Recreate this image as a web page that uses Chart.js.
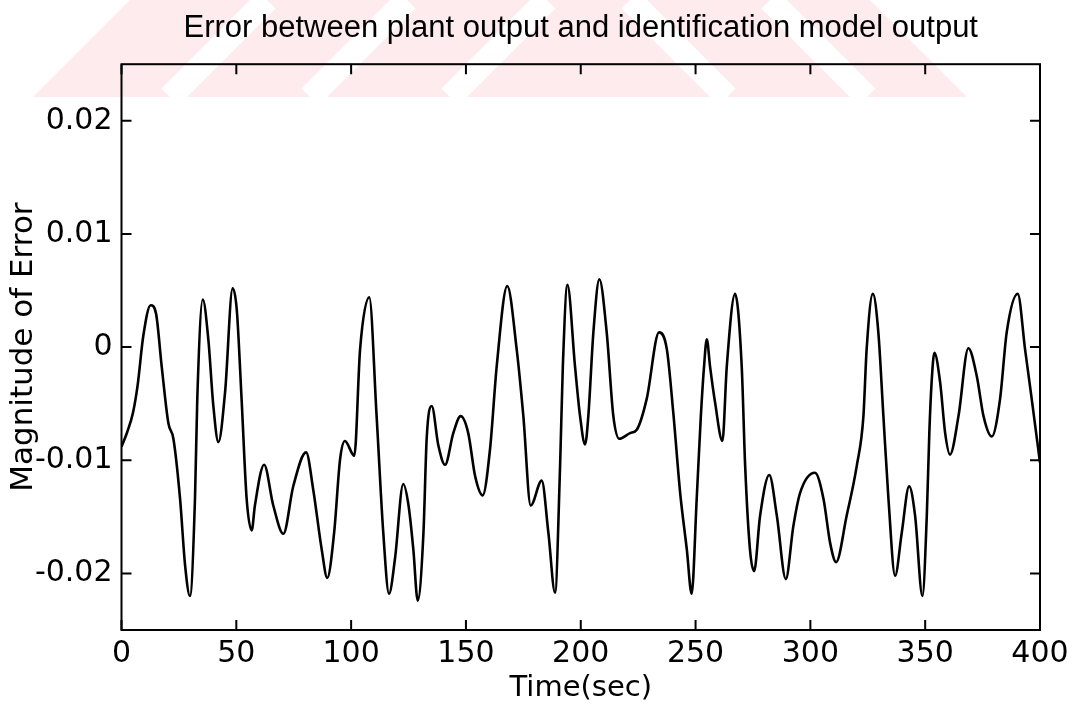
<!DOCTYPE html>
<html>
<head>
<meta charset="utf-8">
<title>Error between plant output and identification model output</title>
<script src="https://cdn.jsdelivr.net/npm/chart.js@4.4.1/dist/chart.umd.min.js"></script>
<style>
  html, body { margin: 0; padding: 0; background: #fff; }
  #wrap { width: 1077px; height: 708px; }
</style>
</head>
<body>
<div id="wrap"><canvas id="errChart" width="1077" height="708"></canvas></div>
<script>
// values
const timeSec = [
  0, 2.5, 5, 7, 9.5, 12.7, 15, 17.5, 20.4, 22.6, 25.5, 27.7, 29.8, 32, 33, 35.4, 37.8, 40, 42.2, 45.1,
  48.4, 50.2, 52.3, 54.5, 56.7, 58.1, 62.1, 66.1, 70.5, 74.8, 80.4, 83.5, 87.2, 89.6, 92.6, 95.2, 97.3,
  101.4, 103.9, 107.9, 111.1, 114, 116.5, 119.1, 122.7, 125, 127.1, 129, 131.5, 132.9, 135.1, 138,
  140.9, 144.5, 147.7, 151, 154, 157.3, 160.5, 163.4, 168, 172.1, 175, 178.2, 183, 185.9, 188.8, 191,
  192.2, 194.2, 197.5, 199.7, 201.9, 203.3, 205.5, 208.1, 211.3, 214.2, 216.8, 221.5, 224.4, 228.7,
  234.1, 237.5, 240.3, 243.3, 246.2, 248.3, 250.5, 252.3, 253.7, 254.9, 256.3, 258.5, 261.7, 263.6,
  267.2, 270.1, 271.6, 273.7, 275.5, 278.1, 282.1, 285.4, 289.3, 292.6, 295.5, 302, 305.7, 308.6,
  311.2, 315.8, 320.2, 323.1, 324.5, 327.2, 329.6, 331.8, 334, 336.9, 339.8, 343, 345.6, 348.8, 350.7,
  351.8, 352.8, 354, 356.5, 358.7, 360.8, 364.5, 368.8, 372.5, 375.4, 379, 382.6, 385.5, 390.3, 393.5,
  396.4, 400
];
const errorVal = [
  -0.0088, -0.0075, -0.0058, -0.0034, 0.0010, 0.0037, 0.0030, -0.0017, -0.0067, -0.0081, -0.0134, -0.0193, -0.0220, -0.0134, -0.0046, 0.0042, 0.0007, -0.0052, -0.0084, -0.0040,
  0.0052, 0.0033, -0.0046, -0.0134, -0.0162, -0.0140, -0.0104, -0.0140, -0.0165, -0.0123, -0.0093, -0.0126, -0.0179, -0.0204, -0.0164, -0.0099, -0.0083,
  -0.0096, -0.0002, 0.0044, -0.0061, -0.0164, -0.0218, -0.0187, -0.0121, -0.0140, -0.0179, -0.0224, -0.0164, -0.0081, -0.0052, -0.0087,
  -0.0104, -0.0076, -0.0061, -0.0076, -0.0114, -0.0131, -0.0090, -0.0017, 0.0054, -0.0002, -0.0061, -0.0140, -0.0118, -0.0164, -0.0217, -0.0105,
  -0.0017, 0.0055, -0.0017, -0.0061, -0.0086, -0.0061, 0.0013, 0.0060, 0.0013, -0.0061, -0.0081, -0.0076, -0.0073, -0.0046,
  0.0013, -0.0002, -0.0058, -0.0129, -0.0179, -0.0218, -0.0134, -0.0061, -0.0017, 0.0007, -0.0017, -0.0049, -0.0083, -0.0017,
  0.0047, -0.0017, -0.0105, -0.0179, -0.0198, -0.0149, -0.0113, -0.0149, -0.0205, -0.0158, -0.0129, -0.0111, -0.0134, -0.0173,
  -0.0190, -0.0149, -0.0105, -0.0061, -0.0002, 0.0047, 0.0013, -0.0061, -0.0134, -0.0202, -0.0164, -0.0123, -0.0149, -0.0220, -0.0149,
  -0.0076, -0.0031, -0.0005, -0.0031, -0.0076, -0.0095, -0.0061, -0.0001, -0.0026, -0.0061, -0.0079, -0.0046, 0.0013, 0.0047, -0.0002,
  -0.0046, -0.0102
];
const xTicks = [0, 50, 100, 150, 200, 250, 300, 350, 400];
const yTicks = [-0.02, -0.01, 0, 0.01, 0.02];

const SANS = "'Liberation Sans', Arial, Helvetica, sans-serif";
const WIDE = "'DejaVu Sans', Verdana, sans-serif";

const points = timeSec.map((t, i) => ({ x: t, y: errorVal[i] }));

// white page + the faint pink watermark band at the top
const backdrop = {
  id: 'backdrop',
  beforeDraw(chart) {
    const ctx = chart.ctx;
    ctx.save();
    ctx.fillStyle = '#fff';
    ctx.fillRect(0, 0, chart.width, chart.height);

    ctx.beginPath();
    ctx.moveTo(33, 97);
    ctx.lineTo(130, 0);
    ctx.lineTo(870, 0);
    ctx.lineTo(967, 97);
    ctx.closePath();
    ctx.clip();
    ctx.fillStyle = '#fdebee';
    ctx.fillRect(0, 0, chart.width, 97);

    ctx.strokeStyle = '#fff';
    ctx.lineWidth = 24;
    // left half: "/" gaps
    ctx.save();
    ctx.beginPath();
    ctx.rect(0, 0, 560, 97);
    ctx.clip();
    for (let x0 = 170; x0 < 560; x0 += 140) {
      ctx.beginPath();
      ctx.moveTo(x0, 97);
      ctx.lineTo(x0 + 97, 0);
      ctx.stroke();
    }
    ctx.restore();
    // right half: "\" gaps
    ctx.save();
    ctx.beginPath();
    ctx.rect(560, 0, 520, 97);
    ctx.clip();
    for (let x0 = 630; x0 < 1100; x0 += 140) {
      ctx.beginPath();
      ctx.moveTo(x0, 0);
      ctx.lineTo(x0 + 97, 97);
      ctx.stroke();
    }
    ctx.restore();
    ctx.restore();
  }
};

// matlab style box with the tick marks pointing inwards
const frameTicks = {
  id: 'frameTicks',
  afterDatasetsDraw(chart) {
    const { ctx, chartArea: a, scales } = chart;
    const len = 10;
    ctx.save();
    ctx.strokeStyle = '#000';
    ctx.lineWidth = 2;
    ctx.strokeRect(a.left, a.top, a.right - a.left, a.bottom - a.top);
    ctx.beginPath();
    xTicks.forEach(v => {
      const px = scales.x.getPixelForValue(v);
      ctx.moveTo(px, a.bottom);
      ctx.lineTo(px, a.bottom - len);
      ctx.moveTo(px, a.top);
      ctx.lineTo(px, a.top + len);
    });
    yTicks.forEach(v => {
      const py = scales.y.getPixelForValue(v);
      ctx.moveTo(a.left, py);
      ctx.lineTo(a.left + len, py);
      ctx.moveTo(a.right, py);
      ctx.lineTo(a.right - len, py);
    });
    ctx.stroke();
    ctx.restore();
  }
};

new Chart(document.getElementById('errChart'), {
  type: 'line',
  data: {
    datasets: [{
      data: points,
      borderColor: '#000',
      borderWidth: 2.6,
      pointRadius: 0,
      fill: false,
      cubicInterpolationMode: 'monotone'
    }]
  },
  options: {
    responsive: false,
    animation: false,
    layout: { padding: { left: 0, right: 37, top: 0, bottom: 0 } },
    plugins: {
      legend: { display: false },
      tooltip: { enabled: false },
      title: {
        display: true,
        fullSize: false,
        text: 'Error between plant output and identification model output',
        color: '#000',
        font: { family: SANS, size: 31, weight: 'normal' },
        padding: { top: 10, bottom: 17 }
      }
    },
    scales: {
      x: {
        type: 'linear',
        min: 0,
        max: 400,
        afterFit(scale) { scale.height = 78; },
        afterBuildTicks(scale) { scale.ticks = xTicks.map(v => ({ value: v })); },
        grid: { display: false, drawTicks: false },
        border: { display: false },
        ticks: {
          color: '#000',
          padding: 6,
          maxRotation: 0,
          autoSkip: false,
          font: { family: WIDE, size: 30 },
          callback: v => String(v)
        },
        title: {
          display: true,
          text: 'Time(sec)',
          color: '#000',
          font: { family: WIDE, size: 29 },
          padding: { top: 0, bottom: 2 }
        }
      },
      y: {
        type: 'linear',
        min: -0.025,
        max: 0.025,
        afterFit(scale) { scale.width = 121.5; },
        afterBuildTicks(scale) { scale.ticks = yTicks.map(v => ({ value: v })); },
        grid: { display: false, drawTicks: false },
        border: { display: false },
        ticks: {
          color: '#000',
          padding: 9,
          autoSkip: false,
          font: { family: WIDE, size: 30 },
          callback: v => (Math.abs(v) < 1e-9 ? '0' : v.toFixed(2))
        },
        title: {
          display: true,
          text: 'Magnitude of Error',
          color: '#000',
          font: { family: WIDE, size: 31 },
          padding: { top: 5, bottom: 0 }
        }
      }
    }
  },
  plugins: [backdrop, frameTicks]
});
</script>
</body>
</html>
